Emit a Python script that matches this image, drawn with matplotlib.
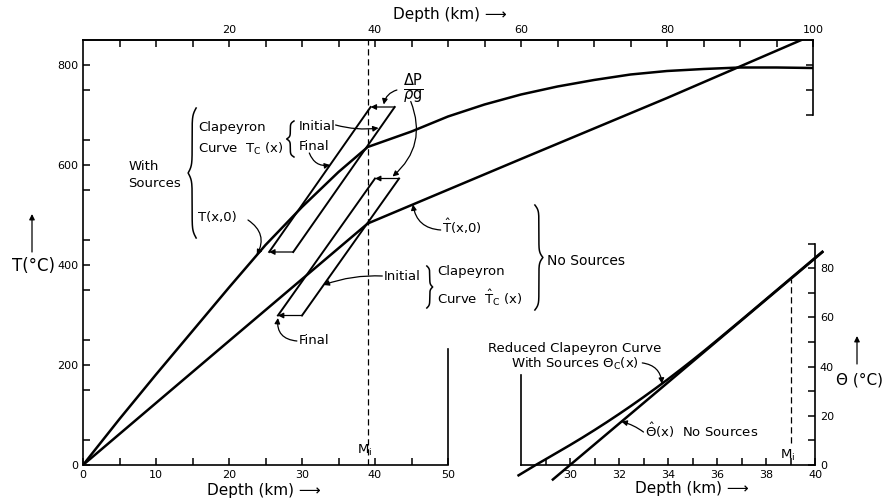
import numpy as np
import matplotlib.pyplot as plt

# temperature profiles, depth in km, T in deg C
depth = [0, 5, 10, 15, 20, 25, 30, 35, 39, 45, 50, 55, 60, 65, 70, 75, 80, 85, 90, 95, 100]
T_sources = [0, 92, 181, 268, 355, 440, 516, 586, 636, 667, 697, 721, 741, 757, 770, 781, 788, 792, 795, 795, 794]

depth_ns = [0, 20, 39, 60, 80, 98.4]
T_no_sources = [0, 248, 483, 612, 734, 850]

moho = 39.0        # M_i
dP_shift = 3.3     # Delta P / rho g in km

# initial Clapeyron curves (end points); the final ones are shifted by dP_shift
clap_T_src = [426, 716]
clap_x_src = [28.8, 42.7]
clap_T_ns = [299, 573]
clap_x_ns = [30.0, 43.3]

# reduced Clapeyron curves for the inset
theta_x_c = [27.9, 28.6, 29, 29.5, 30, 30.5, 31, 31.5, 32, 32.5, 33, 33.5, 34, 34.5,
             35, 35.5, 36, 37, 38, 39, 40, 40.3]
theta_c = [-4.2, 0, 2.3, 5.2, 8.1, 11.1, 14.2, 17.4, 20.7, 24.1, 27.6, 31.2, 34.9, 38.7,
           42.6, 46.6, 50.7, 59.0, 67.4, 75.8, 84.2, 86.7]
theta_x_hat = [29.3, 40.3]
theta_hat = [-5.9, 86.5]

ticks_bottom = [0, 10, 20, 30, 40, 50]
ticks_top = [20, 40, 60, 80, 100]
ticks_T = [0, 200, 400, 600, 800]
ticks_inset_x = [30, 32, 34, 36, 38, 40]
ticks_theta = [0, 20, 40, 60, 80]

FS = 9.5
LW = 1.8


def arrow(a, xy, xytext, rad=0.0, coords='data'):
    a.annotate("", xy=xy, xytext=xytext, xycoords=coords, textcoords=coords,
               arrowprops=dict(arrowstyle='-|>', color='k', lw=0.9, mutation_scale=8,
                               shrinkA=0, shrinkB=0,
                               connectionstyle='arc3,rad=%s' % rad))


def brace(a, x_end, x_tip, y0, y1, k=36):
    # curly brace drawn between y0 and y1, pointing towards x_tip
    u = np.linspace(0, 0.5, 120)
    g = 1 / (1 + np.exp(-k * u)) + 1 / (1 + np.exp(-k * (u - 0.5))) - 0.5
    g = np.concatenate([g, g[-2::-1]])
    y = np.linspace(y0, y1, len(g))
    a.plot(x_end + (x_tip - x_end) * g, y, color='k', lw=1.1)


fig = plt.figure(figsize=(8.83, 5.01), dpi=100)

# ---- main panel ----
ax = fig.add_axes([83 / 883, 36 / 501, 730 / 883, 425 / 501])
ax.set_xlim(0, 100)
ax.set_ylim(0, 850)
for s in ax.spines.values():
    s.set_linewidth(1.2)
ax.spines['right'].set_visible(False)
ax.spines['bottom'].set_bounds(0, 50)

ax.set_xticks(ticks_bottom)
ax.set_xticks(np.arange(5, 50, 10), minor=True)
ax.set_yticks(ticks_T)
ax.set_yticks(np.arange(50, 850, 100), minor=True)
ax.tick_params(which='both', direction='in', length=5, width=1.1, labelsize=8)

top = ax.secondary_xaxis('top')
top.set_xticks(ticks_top)
top.set_xticks([t for t in range(5, 100, 5) if t % 20], minor=True)
top.tick_params(which='both', direction='in', length=5, width=1.1, labelsize=8)
top.spines['top'].set_linewidth(1.2)

right = ax.secondary_yaxis('right')
right.set_yticks([700, 750, 800])
right.set_yticklabels([])
right.tick_params(direction='in', length=5, width=1.1)
right.spines['right'].set_linewidth(1.2)
right.spines['right'].set_bounds(700, 850)

# right edge of the lower left frame
ax.plot([50, 50], [0, 232], color='k', lw=1.2)

ax.plot(depth, T_sources, color='k', lw=LW)
ax.plot(depth_ns, T_no_sources, color='k', lw=LW)

for xs, Ts in [(clap_x_src, clap_T_src), (clap_x_ns, clap_T_ns)]:
    fin = [x - dP_shift for x in xs]
    ax.plot(xs, Ts, color='k', lw=1.4)
    ax.plot(fin, Ts, color='k', lw=1.4)
    for i in range(2):
        arrow(ax, (fin[i], Ts[i]), (xs[i], Ts[i]))

ax.axvline(moho, color='k', lw=0.9, ls=(0, (5, 3)))

# labels with sources
ax.text(6.2, 580, "With\nSources", fontsize=FS, va='center', linespacing=1.4)
brace(ax, 15.5, 14.4, 454, 714)
ax.text(15.75, 676, "Clapeyron", fontsize=FS, va='center')
ax.text(15.75, 632, r"Curve  T$_\mathrm{C}$ (x)", fontsize=FS, va='center')
brace(ax, 28.9, 27.9, 616, 688, k=30)
ax.text(29.6, 678, "Initial", fontsize=FS, va='center')
ax.text(29.6, 638, "Final", fontsize=FS, va='center')
ax.text(15.75, 494, "T(x,0)", fontsize=FS, va='center')
ax.text(45.2, 752, r"$\frac{\Delta \mathrm{P}}{\rho \mathrm{g}}$", fontsize=15,
        ha='center', va='center')

fin_src = [x - dP_shift for x in clap_x_src]
fin_ns = [x - dP_shift for x in clap_x_ns]
arrow(ax, (np.interp(674, clap_T_src, clap_x_src) - 0.2, 674), (34.6, 680), rad=0.1)
arrow(ax, (np.interp(600, clap_T_src, fin_src), 600), (31.0, 624), rad=0.4)
arrow(ax, (23.8, np.interp(23.8, depth, T_sources)), (22.6, 490), rad=-0.45)
arrow(ax, (41.2, 721), (43.0, 750), rad=0.3)
arrow(ax, (42.4, 577), (44.9, 727), rad=-0.35)

# labels without sources
ax.text(49.2, 478, r"$\hat{\mathrm{T}}$(x,0)", fontsize=FS, va='center')
arrow(ax, (45.2, np.interp(45.2, depth_ns, T_no_sources)), (49.0, 470), rad=-0.4)
brace(ax, 61.9, 63.0, 310, 520, k=40)
ax.text(63.6, 408, "No Sources", fontsize=FS + 0.5, va='center')
ax.text(41.2, 378, "Initial", fontsize=FS, va='center')
arrow(ax, (np.interp(360, clap_T_ns, clap_x_ns), 360), (41.0, 378), rad=0.1)
brace(ax, 47.1, 47.9, 314, 398, k=30)
ax.text(48.5, 386, "Clapeyron", fontsize=FS, va='center')
ax.text(48.5, 334, r"Curve  $\hat{\mathrm{T}}_\mathrm{C}$ (x)", fontsize=FS, va='center')
ax.text(29.5, 250, "Final", fontsize=FS, va='center')
arrow(ax, (fin_ns[0], clap_T_ns[0] - 5), (29.3, 248), rad=-0.5)
ax.text(37.6, 30, r"M$_\mathrm{i}$", fontsize=FS, va='center')

# ---- inset: reduced Clapeyron curves ----
ax_in = fig.add_axes([521 / 883, 36 / 501, 294 / 883, 221.4 / 501], facecolor='none')
ax_in.set_xlim(28, 40)
ax_in.set_ylim(0, 90)
for s in ax_in.spines.values():
    s.set_linewidth(1.2)
ax_in.spines['top'].set_visible(False)
ax_in.spines['left'].set_bounds(0, 36.5)
ax_in.yaxis.tick_right()
ax_in.set_xticks(ticks_inset_x)
ax_in.set_xticks(np.arange(29, 40, 2), minor=True)
ax_in.set_yticks(ticks_theta)
ax_in.set_yticks(np.arange(10, 91, 20), minor=True)
ax_in.tick_params(which='both', direction='in', length=5, width=1.1, labelsize=8)

ax_in.plot(theta_x_c, theta_c, color='k', lw=LW, clip_on=False)
ax_in.plot(theta_x_hat, theta_hat, color='k', lw=LW, clip_on=False)
ax_in.plot([moho, moho], [9, np.interp(moho, theta_x_hat, theta_hat)],
           color='k', lw=0.9, ls=(0, (5, 3)))
ax_in.text(38.9, 4, r"M$_\mathrm{i}$", fontsize=FS, ha='center', va='center')

ax_in.text(30.2, 47.2, "Reduced Clapeyron Curve", fontsize=FS, ha='center', va='center')
ax_in.text(30.2, 41, r"With Sources $\Theta_\mathrm{C}$(x)", fontsize=FS, ha='center', va='center')
arrow(ax_in, (33.75, np.interp(33.75, theta_x_c, theta_c)), (32.95, 41.5), rad=-0.4)
ax_in.text(33.05, 14.2, r"$\hat{\Theta}$(x)  No Sources", fontsize=FS, va='center')
arrow(ax_in, (32.1, np.interp(32.1, theta_x_hat, theta_hat)), (33.0, 13.4), rad=0.1)

# ---- axis titles ----
fig.text(450 / 883, 1 - 15 / 501, "Depth (km) \u27f6", fontsize=11, ha='center', va='center')
fig.text(264 / 883, 1 - 490 / 501, "Depth (km) \u27f6", fontsize=11, ha='center', va='center')
fig.text(692 / 883, 1 - 488 / 501, "Depth (km) \u27f6", fontsize=11, ha='center', va='center')
fig.text(12 / 883, 1 - 266 / 501, "T(°C)", fontsize=12, ha='left', va='center')
fig.text(836 / 883, 1 - 380 / 501, "Θ (°C)", fontsize=11, ha='left', va='center')
arrow(ax, (32 / 883, 1 - 214 / 501), (32 / 883, 1 - 252 / 501), coords='figure fraction')
arrow(ax, (857 / 883, 1 - 336 / 501), (857 / 883, 1 - 364 / 501), coords='figure fraction')

fig.savefig("out.png", dpi=100)
